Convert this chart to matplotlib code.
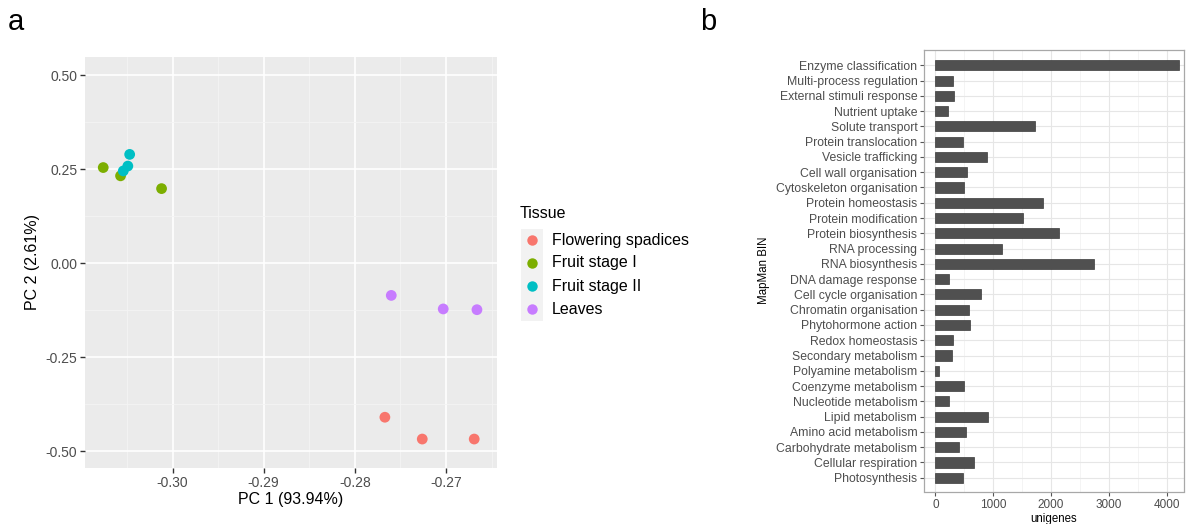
import matplotlib
matplotlib.use("Agg")
import matplotlib.pyplot as plt
from matplotlib.patches import Rectangle
from matplotlib.lines import Line2D
from matplotlib.ticker import MultipleLocator

plt.rcParams['font.family'] = ['Liberation Sans', 'DejaVu Sans']

# ---------------- data: panel a (PCA) ----------------
tissues = ["Flowering spadices", "Fruit stage I", "Fruit stage II", "Leaves"]
tissue_colors = ["#F8766D", "#7CAE00", "#00BFC4", "#C77CFF"]
pc1_flowering = [-0.2767, -0.2726, -0.2669]
pc2_flowering = [-0.410, -0.468, -0.468]
pc1_fruit1 = [-0.3076, -0.3057, -0.3012]
pc2_fruit1 = [0.254, 0.232, 0.198]
pc1_fruit2 = [-0.3047, -0.3049, -0.3054]
pc2_fruit2 = [0.289, 0.258, 0.245]
pc1_leaves = [-0.2760, -0.2703, -0.2666]
pc2_leaves = [-0.086, -0.122, -0.124]
pc1_ticks = [-0.30, -0.29, -0.28, -0.27]
pc1_ticklabels = ["-0.30", "-0.29", "-0.28", "-0.27"]
pc2_ticks = [0.50, 0.25, 0.00, -0.25, -0.50]
pc2_ticklabels = ["0.50", "0.25", "0.00", "-0.25", "-0.50"]

# ---------------- data: panel b (MapMan BIN) ----------------
bins = ["Enzyme classification", "Multi-process regulation", "External stimuli response",
        "Nutrient uptake", "Solute transport", "Protein translocation", "Vesicle trafficking",
        "Cell wall organisation", "Cytoskeleton organisation", "Protein homeostasis",
        "Protein modification", "Protein biosynthesis", "RNA processing", "RNA biosynthesis",
        "DNA damage response", "Cell cycle organisation", "Chromatin organisation",
        "Phytohormone action", "Redox homeostasis", "Secondary metabolism",
        "Polyamine metabolism", "Coenzyme metabolism", "Nucleotide metabolism",
        "Lipid metabolism", "Amino acid metabolism", "Carbohydrate metabolism",
        "Cellular respiration", "Photosynthesis"]
unigenes = [4212, 310, 313, 224, 1724, 471, 885, 540, 488, 1856, 1517, 2138, 1144, 2736,
            236, 782, 586, 603, 305, 293, 57, 500, 236, 914, 523, 402, 661, 483]
unigene_ticks = [0, 1000, 2000, 3000, 4000]

W, H = 1193, 524
fig = plt.figure(figsize=(W / 100, H / 100), dpi=100)

def fx(px):
    return px / W

def fy(py):
    return 1 - py / H

# ---------------- panel a ----------------
axa = fig.add_axes([fx(85), fy(468), fx(497) - fx(85), fy(57) - fy(468)])
axa.set_facecolor("#EBEBEB")
for s in axa.spines.values():
    s.set_visible(False)
axa.set_xlim(-0.3096, -0.2644)
axa.set_ylim(-0.545, 0.548)
axa.set_xticks(pc1_ticks)
axa.set_xticklabels(pc1_ticklabels)
axa.set_yticks(pc2_ticks)
axa.set_yticklabels(pc2_ticklabels)
axa.xaxis.set_minor_locator(MultipleLocator(0.005))
axa.yaxis.set_minor_locator(MultipleLocator(0.125))
axa.grid(which="major", color="white", linewidth=1.2)
axa.grid(which="minor", color="#F4F4F4", linewidth=0.6)
axa.set_axisbelow(True)
axa.tick_params(which="major", length=3.5, width=1, color="#333333",
                labelsize=10, labelcolor="#4D4D4D", pad=2)
axa.tick_params(which="minor", length=0)
series = [(pc1_flowering, pc2_flowering), (pc1_fruit1, pc2_fruit1),
          (pc1_fruit2, pc2_fruit2), (pc1_leaves, pc2_leaves)]
for (xs, ys), c in zip(series, tissue_colors):
    axa.scatter(xs, ys, s=60, color=c, edgecolors="none", zorder=3)
axa.set_xlabel("PC 1 (93.94%)", fontsize=11.5, labelpad=2)
axa.set_ylabel("PC 2 (2.61%)", fontsize=11.5, labelpad=4)

# legend (manual, ggplot style)
fig.text(fx(520), fy(213), "Tissue", fontsize=11.5, ha="left", va="center")
key_y = [240, 263, 286, 309]
for name, c, yy in zip(tissues, tissue_colors, key_y):
    fig.add_artist(Rectangle((fx(521), fy(yy + 11.5)), fx(22), fy(0) - fy(23),
                             transform=fig.transFigure, facecolor="#F2F2F2",
                             edgecolor="none"))
    fig.add_artist(Line2D([fx(532)], [fy(yy)], marker="o", markersize=7.5,
                          color=c, markeredgecolor="none", linestyle="none",
                          transform=fig.transFigure))
    fig.text(fx(552), fy(yy), name, fontsize=11.5, ha="left", va="center")

fig.text(fx(8), fy(22), "a", fontsize=21, ha="left", va="center")
fig.text(fx(700), fy(22), "b", fontsize=21, ha="left", va="center")

# ---------------- panel b ----------------
axb = fig.add_axes([fx(923.5), fy(491.5), fx(1183.5) - fx(923.5), fy(50) - fy(491.5)])
ypos = list(range(len(bins)))
axb.barh(ypos, unigenes, height=0.66, color="#505050", edgecolor="#3A3A3A",
         linewidth=0.5, zorder=3)
axb.set_ylim(len(bins) - 1 + 0.9, -1.0)
axb.set_xlim(-207, 4293)
axb.set_yticks(ypos)
axb.set_yticklabels(bins)
axb.set_xticks(unigene_ticks)
axb.set_xticklabels([str(v) for v in unigene_ticks])
axb.xaxis.set_minor_locator(MultipleLocator(500))
axb.grid(which="major", color="#E6E6E6", linewidth=0.8)
axb.grid(which="minor", axis="x", color="#F0F0F0", linewidth=0.5)
axb.set_axisbelow(True)
for s in axb.spines.values():
    s.set_color("#A8A8A8")
    s.set_linewidth(0.9)
axb.tick_params(which="major", length=3, width=0.8, color="#555555",
                labelsize=8.8, labelcolor="#4D4D4D", pad=1.5)
axb.tick_params(axis="x", labelsize=8.5, pad=2.5)
axb.tick_params(which="minor", length=0)
axb.set_xlabel("unigenes", fontsize=8.3, labelpad=1)
axb.set_ylabel("MapMan BIN", fontsize=8.3, labelpad=4)

fig.savefig("out.png", dpi=100)
